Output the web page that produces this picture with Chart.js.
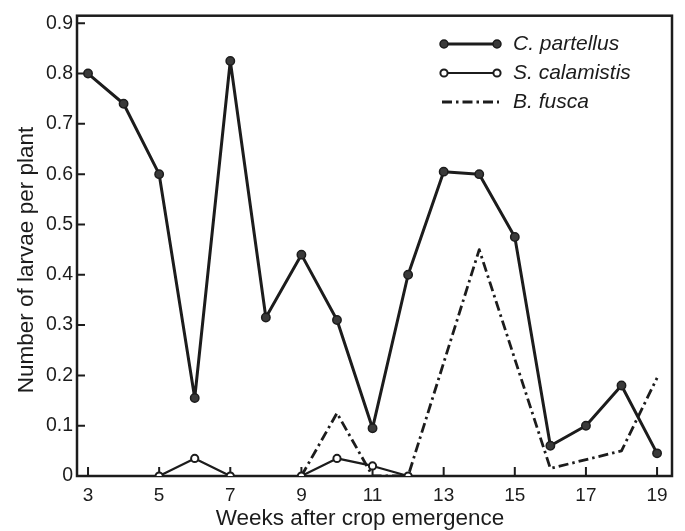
<!DOCTYPE html>
<html>
<head>
<meta charset="utf-8">
<script src="https://cdn.jsdelivr.net/npm/chart.js@4"></script>
<style>
  html, body { margin: 0; padding: 0; background: #fff; }
  #wrap { width: 685px; height: 531px; }
</style>
</head>
<body>
<div id="wrap"><canvas id="c" width="685" height="531"></canvas></div>
<script>
// Weekly larval counts per plant for three stem borer species
const weeks      = [3, 4, 5, 6, 7, 8, 9, 10, 11, 12, 13, 14, 15, 16, 17, 18, 19];
const partellus  = [0.80, 0.74, 0.60, 0.155, 0.825, 0.315, 0.44, 0.31, 0.095, 0.40, 0.605, 0.60, 0.475, 0.06, 0.10, 0.18, 0.045];
const calamistis = [null, null, 0, 0.035, 0, null, 0, 0.035, 0.02, 0, null, null, null, null, null, null, null];
const fusca      = [null, null, null, null, null, null, 0, 0.125, 0, 0, null, 0.45, null, 0.015, null, 0.05, 0.195];
const xTicks     = [3, 5, 7, 9, 11, 13, 15, 17, 19];
const yTicks     = [0, 0.1, 0.2, 0.3, 0.4, 0.5, 0.6, 0.7, 0.8, 0.9];
const seriesNames = ['C. partellus', 'S. calamistis', 'B. fusca'];
const xTitle = 'Weeks after crop emergence';
const yTitle = 'Number of larvae per plant';

const INK = '#1c1c1c';
const FONT = '"Liberation Sans", Arial, Helvetica, sans-serif';
const DASH_DOT = [10, 4, 2.5, 4];

const toPoints = vals => weeks.map((w, i) => ({ x: w, y: vals[i] }));

// Box frame with inward-pointing ticks, axis titles and the key
const framePlugin = {
  id: 'frame',
  beforeDatasetsDraw(chart) {
    const { ctx, chartArea: a, scales } = chart;
    ctx.save();
    ctx.strokeStyle = INK;
    ctx.lineWidth = 2.5;
    ctx.strokeRect(a.left, a.top, a.right - a.left, a.bottom - a.top);
    ctx.lineWidth = 2;
    ctx.beginPath();
    xTicks.forEach(v => {
      const px = scales.x.getPixelForValue(v);
      ctx.moveTo(px, a.bottom);
      ctx.lineTo(px, a.bottom - 9);
    });
    yTicks.forEach(v => {
      if (v === 0) return;
      const py = scales.y.getPixelForValue(v);
      ctx.moveTo(a.left, py);
      ctx.lineTo(a.left + 8, py);
    });
    ctx.stroke();
    ctx.restore();
  },
  afterDraw(chart) {
    const { ctx } = chart;
    ctx.save();
    ctx.fillStyle = INK;
    ctx.font = '22.5px ' + FONT;
    ctx.textAlign = 'center';
    ctx.textBaseline = 'middle';
    ctx.fillText(xTitle, 360, 519);
    ctx.translate(27, 260);
    ctx.rotate(-Math.PI / 2);
    ctx.font = '22.5px ' + FONT;
    ctx.fillText(yTitle, 0, 0);
    ctx.restore();

    ctx.save();
    const x0 = 444, x1 = 497, tx = 513;
    const rows = [44, 73, 102];
    ctx.strokeStyle = INK;
    ctx.lineWidth = 3;
    ctx.beginPath(); ctx.moveTo(x0, rows[0]); ctx.lineTo(x1, rows[0]); ctx.stroke();
    [x0, x1].forEach(x => {
      ctx.beginPath(); ctx.arc(x, rows[0], 4, 0, Math.PI * 2);
      ctx.fillStyle = '#3a3a3a'; ctx.fill();
      ctx.lineWidth = 1.5; ctx.stroke();
    });
    ctx.lineWidth = 2.2;
    ctx.beginPath(); ctx.moveTo(x0, rows[1]); ctx.lineTo(x1, rows[1]); ctx.stroke();
    [x0, x1].forEach(x => {
      ctx.beginPath(); ctx.arc(x, rows[1], 3.6, 0, Math.PI * 2);
      ctx.fillStyle = '#fff'; ctx.fill();
      ctx.lineWidth = 2; ctx.stroke();
    });
    ctx.lineWidth = 2.8;
    ctx.setLineDash(DASH_DOT);
    ctx.beginPath(); ctx.moveTo(x0 - 2, rows[2]); ctx.lineTo(x1 + 2, rows[2]); ctx.stroke();
    ctx.setLineDash([]);
    ctx.fillStyle = INK;
    ctx.font = 'italic 21px ' + FONT;
    ctx.textAlign = 'left';
    ctx.textBaseline = 'middle';
    seriesNames.forEach((n, i) => ctx.fillText(n, tx, rows[i]));
    ctx.restore();
  }
};

new Chart(document.getElementById('c'), {
  type: 'line',
  data: {
    datasets: [
      {
        label: seriesNames[2],
        data: toPoints(fusca),
        borderColor: INK,
        borderWidth: 2.8,
        borderDash: DASH_DOT,
        borderJoinStyle: 'round',
        pointRadius: 0,
        spanGaps: true,
        tension: 0,
        order: 3
      },
      {
        label: seriesNames[1],
        data: toPoints(calamistis),
        borderColor: INK,
        borderWidth: 2.2,
        borderJoinStyle: 'round',
        pointRadius: 3.6,
        pointBackgroundColor: '#fff',
        pointBorderColor: INK,
        pointBorderWidth: 2,
        spanGaps: false,
        tension: 0,
        order: 2
      },
      {
        label: seriesNames[0],
        data: toPoints(partellus),
        borderColor: INK,
        borderWidth: 3,
        borderJoinStyle: 'round',
        pointRadius: 4.2,
        pointBackgroundColor: '#3a3a3a',
        pointBorderColor: INK,
        pointBorderWidth: 1.5,
        tension: 0,
        order: 1
      }
    ]
  },
  options: {
    responsive: false,
    animation: false,
    devicePixelRatio: 1,
    layout: { padding: { top: 13, right: 13, left: 0, bottom: 0 } },
    plugins: { legend: { display: false }, tooltip: { enabled: false } },
    scales: {
      x: {
        type: 'linear',
        min: 2.69,
        max: 19.42,
        afterBuildTicks: s => { s.ticks = xTicks.map(v => ({ value: v })); },
        afterFit: s => { s.height = 55; },
        grid: { display: false, drawTicks: false },
        border: { display: false },
        ticks: { color: INK, font: { family: FONT, size: 19 }, padding: 8, maxRotation: 0, autoSkip: false }
      },
      y: {
        min: 0,
        max: 0.915,
        afterBuildTicks: s => { s.ticks = yTicks.map(v => ({ value: v })); },
        afterFit: s => { s.width = 77; },
        grid: { display: false, drawTicks: false },
        border: { display: false },
        ticks: {
          color: INK,
          font: { family: FONT, size: 19.5 },
          padding: 4,
          autoSkip: false,
          callback: v => (v === 0 ? '0' : v.toFixed(1))
        }
      }
    }
  },
  plugins: [framePlugin]
});
</script>
</body>
</html>
